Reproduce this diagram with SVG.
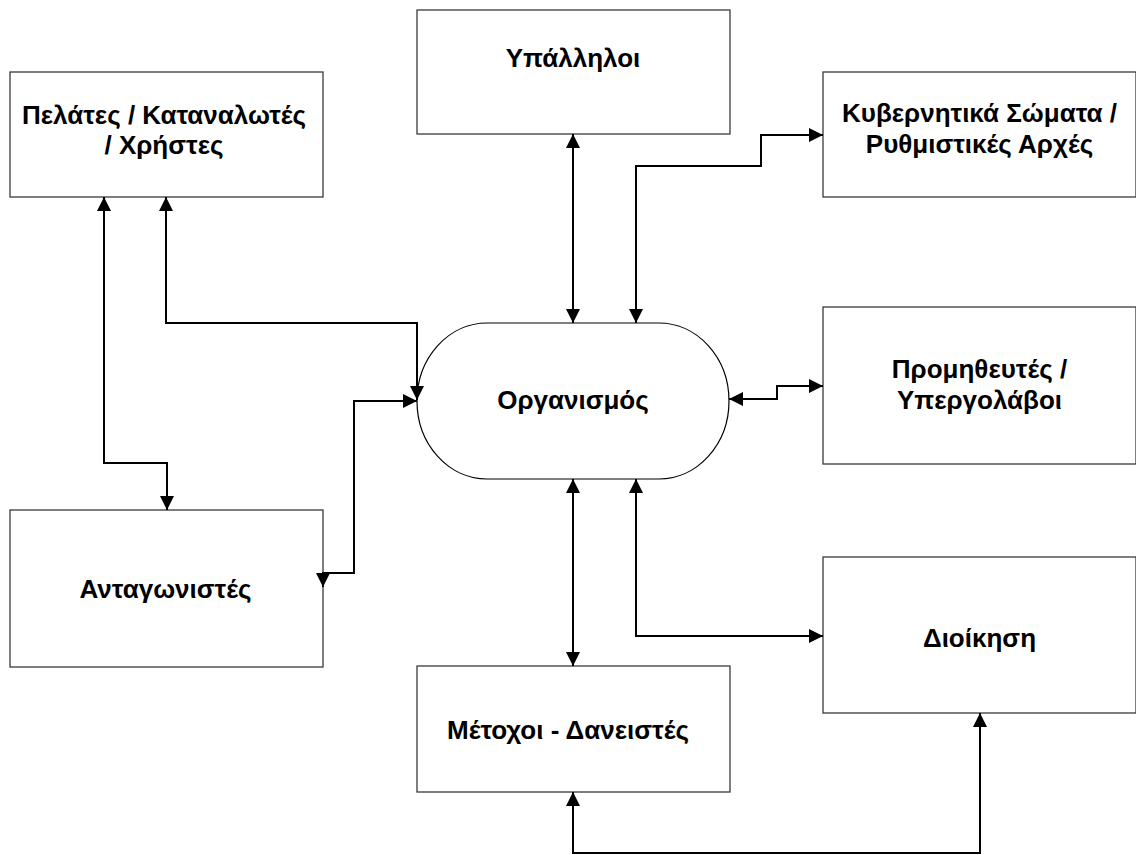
<svg xmlns="http://www.w3.org/2000/svg" width="1136" height="855" viewBox="0 0 1136 855">
  <style>
    .box { fill: #ffffff; stroke: #3a3a3a; stroke-width: 1.3; }
    .hub { fill: #ffffff; stroke: #000000; stroke-width: 1.2; }
    .lbl { font-family: "Liberation Sans", Arial, sans-serif; font-weight: bold; font-size: 26px; fill: #000000; text-anchor: middle; }
    .wire { fill: none; stroke: #000000; stroke-width: 2; }
    .both { marker-start: url(#tip); marker-end: url(#tip); }
  </style>
  <defs>
    <marker id="tip" viewBox="0 0 14 14" markerWidth="14" markerHeight="14" refX="14" refY="7" markerUnits="userSpaceOnUse" orient="auto-start-reverse">
      <path d="M0,0 L14,7 L0,14 Z" fill="#000000"/>
    </marker>
  </defs>
  <rect width="1136" height="855" fill="#ffffff"/>

  <g id="customers">
    <rect class="box" x="10" y="72" width="313" height="125"/>
    <text class="lbl" x="164" y="124">Πελάτες / Καταναλωτές</text>
    <text class="lbl" x="164" y="154">/ Χρήστες</text>
  </g>

  <g id="employees">
    <rect class="box" x="417" y="10" width="313" height="124"/>
    <text class="lbl" x="573" y="67">Υπάλληλοι</text>
  </g>

  <g id="government">
    <rect class="box" x="823" y="72" width="313" height="125"/>
    <text class="lbl" x="979.5" y="122">Κυβερνητικά Σώματα /</text>
    <text class="lbl" x="979.5" y="153">Ρυθμιστικές Αρχές</text>
  </g>

  <g id="organisation">
    <rect class="hub" x="417" y="323" width="312" height="156" rx="70" ry="78"/>
    <text class="lbl" x="573" y="409">Οργανισμός</text>
  </g>

  <g id="suppliers">
    <rect class="box" x="823" y="307" width="313" height="157"/>
    <text class="lbl" x="979.5" y="378">Προμηθευτές /</text>
    <text class="lbl" x="979.5" y="409">Υπεργολάβοι</text>
  </g>

  <g id="competitors">
    <rect class="box" x="10" y="510" width="313" height="157"/>
    <text class="lbl" x="165.5" y="598">Ανταγωνιστές</text>
  </g>

  <g id="management">
    <rect class="box" x="823" y="557" width="313" height="156"/>
    <text class="lbl" x="979.5" y="647">Διοίκηση</text>
  </g>

  <g id="shareholders">
    <rect class="box" x="417" y="666" width="313" height="126"/>
    <text class="lbl" x="568" y="739">Μέτοχοι - Δανειστές</text>
  </g>

  <g id="connectors">
    <!-- customers <-> competitors -->
    <path class="wire both" d="M104,197 L104,463 L167,463 L167,510"/>
    <!-- customers <-> organisation -->
    <path class="wire both" d="M166,197 L166,323 L417,323 L417,400"/>
    <!-- competitors <-> organisation -->
    <path class="wire both" d="M323,587 L323,573 L354,573 L354,401 L417,401"/>
    <!-- employees <-> organisation -->
    <path class="wire both" d="M573,134 L573,323"/>
    <!-- organisation <-> government -->
    <path class="wire both" d="M636,323 L636,166 L761,166 L761,135 L823,135"/>
    <!-- organisation <-> suppliers -->
    <path class="wire both" d="M729,399 L777,399 L777,386 L823,386"/>
    <!-- organisation <-> shareholders -->
    <path class="wire both" d="M573,479 L573,666"/>
    <!-- organisation <-> management -->
    <path class="wire both" d="M636,479 L636,636 L823,636"/>
    <!-- shareholders <-> management -->
    <path class="wire both" d="M573,792 L573,853 L980,853 L980,713"/>
  </g>
</svg>
